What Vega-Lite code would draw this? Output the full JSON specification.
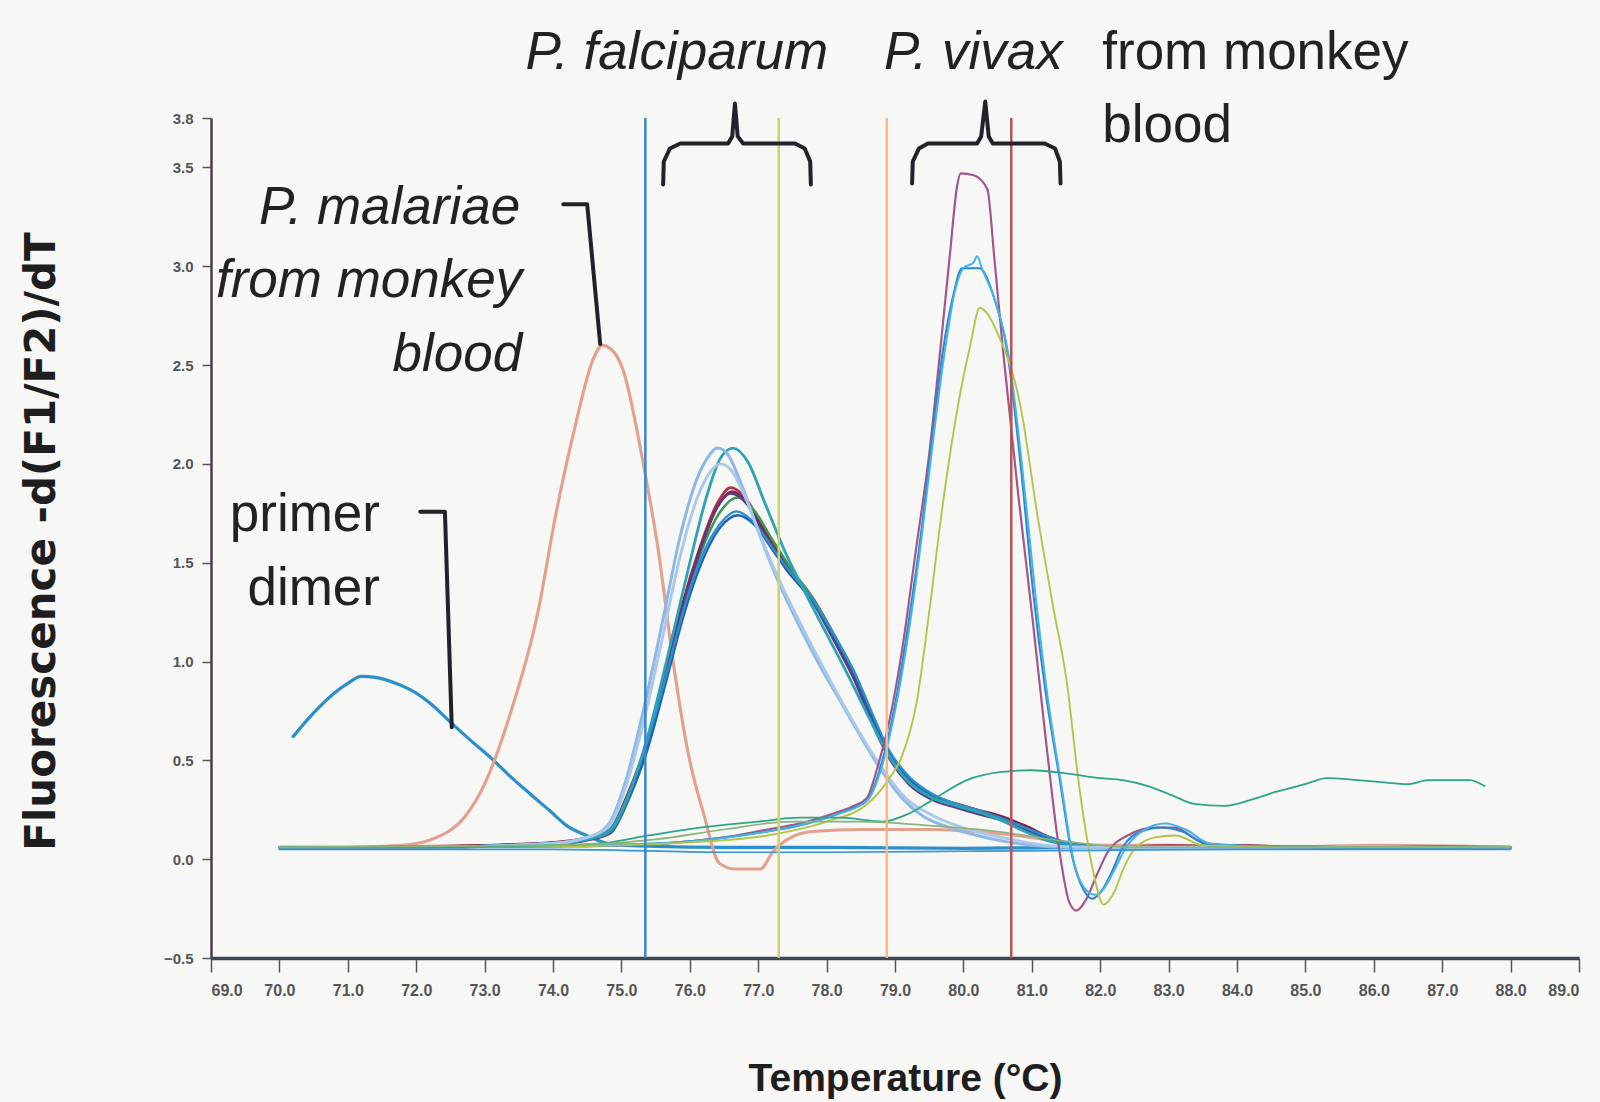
{
"$schema": "https://vega.github.io/schema/vega-lite/v6.json",
"width": 1368, "height": 840,
"autosize": {"type": "none"},
"padding": {"left": 211, "top": 118, "right": 21, "bottom": 144},
"background": "#f7f7f5",
"config": {"view": {"stroke": null}, "font": "Liberation Sans"},
"datasets": {
"curves": [
{"s":"primer","t":70.2,"v":0.62},{"s":"primer","t":70.5,"v":0.74},{"s":"primer","t":70.8,"v":0.84},{"s":"primer","t":71.0,"v":0.89},{"s":"primer","t":71.2,"v":0.925},{"s":"primer","t":71.4,"v":0.92},{"s":"primer","t":71.7,"v":0.89},{"s":"primer","t":72.0,"v":0.84},{"s":"primer","t":72.2,"v":0.79},{"s":"primer","t":72.48,"v":0.70},{"s":"primer","t":72.8,"v":0.60},{"s":"primer","t":73.1,"v":0.51},{"s":"primer","t":73.37,"v":0.42},{"s":"primer","t":73.7,"v":0.32},{"s":"primer","t":73.97,"v":0.24},{"s":"primer","t":74.2,"v":0.17},{"s":"primer","t":74.49,"v":0.12},{"s":"primer","t":74.87,"v":0.075},{"s":"primer","t":75.5,"v":0.065},{"s":"primer","t":76.5,"v":0.06},{"s":"primer","t":78,"v":0.06},{"s":"primer","t":80,"v":0.055},{"s":"primer","t":82,"v":0.06},{"s":"primer","t":84,"v":0.055},{"s":"primer","t":86,"v":0.06},{"s":"primer","t":88,"v":0.06},
{"s":"malariae","t":70.0,"v":0.06},{"s":"malariae","t":71.0,"v":0.06},{"s":"malariae","t":71.8,"v":0.07},{"s":"malariae","t":72.3,"v":0.11},{"s":"malariae","t":72.7,"v":0.21},{"s":"malariae","t":73.0,"v":0.38},{"s":"malariae","t":73.37,"v":0.73},{"s":"malariae","t":73.78,"v":1.25},{"s":"malariae","t":74.05,"v":1.76},{"s":"malariae","t":74.31,"v":2.17},{"s":"malariae","t":74.6,"v":2.54},{"s":"malariae","t":74.72,"v":2.6},{"s":"malariae","t":74.85,"v":2.58},{"s":"malariae","t":75.02,"v":2.48},{"s":"malariae","t":75.31,"v":2.02},{"s":"malariae","t":75.54,"v":1.56},{"s":"malariae","t":75.76,"v":0.99},{"s":"malariae","t":75.98,"v":0.53},{"s":"malariae","t":76.21,"v":0.22},{"s":"malariae","t":76.43,"v":-0.02},{"s":"malariae","t":76.66,"v":-0.05},{"s":"malariae","t":77.03,"v":-0.05},{"s":"malariae","t":77.22,"v":0.04},{"s":"malariae","t":77.48,"v":0.11},{"s":"malariae","t":77.8,"v":0.14},{"s":"malariae","t":78.5,"v":0.15},{"s":"malariae","t":79.5,"v":0.15},{"s":"malariae","t":80.5,"v":0.13},{"s":"malariae","t":81.0,"v":0.11},{"s":"malariae","t":81.5,"v":0.08},{"s":"malariae","t":82.0,"v":0.07},{"s":"malariae","t":83.0,"v":0.07},{"s":"malariae","t":84.5,"v":0.06},{"s":"malariae","t":86.0,"v":0.07},{"s":"malariae","t":88.0,"v":0.06},
{"s":"fal_red","t":70,"v":0.06},{"s":"fal_red","t":71,"v":0.06},{"s":"fal_red","t":72,"v":0.065},{"s":"fal_red","t":73,"v":0.07},{"s":"fal_red","t":74,"v":0.08},{"s":"fal_red","t":74.5,"v":0.1},{"s":"fal_red","t":74.83,"v":0.14},{"s":"fal_red","t":75.08,"v":0.3},{"s":"fal_red","t":75.35,"v":0.55},{"s":"fal_red","t":75.67,"v":0.97},{"s":"fal_red","t":75.9,"v":1.3},{"s":"fal_red","t":76.15,"v":1.58},{"s":"fal_red","t":76.4,"v":1.8},{"s":"fal_red","t":76.6,"v":1.88},{"s":"fal_red","t":76.85,"v":1.81},{"s":"fal_red","t":77.1,"v":1.65},{"s":"fal_red","t":77.4,"v":1.48},{"s":"fal_red","t":77.8,"v":1.31},{"s":"fal_red","t":78.1,"v":1.12},{"s":"fal_red","t":78.4,"v":0.92},{"s":"fal_red","t":78.74,"v":0.64},{"s":"fal_red","t":78.9,"v":0.53},{"s":"fal_red","t":79.2,"v":0.39},{"s":"fal_red","t":79.55,"v":0.31},{"s":"fal_red","t":79.9,"v":0.27},{"s":"fal_red","t":80.2,"v":0.24},{"s":"fal_red","t":80.53,"v":0.21},{"s":"fal_red","t":80.9,"v":0.16},{"s":"fal_red","t":81.27,"v":0.1},{"s":"fal_red","t":81.7,"v":0.07},{"s":"fal_red","t":82.2,"v":0.06},{"s":"fal_red","t":83,"v":0.07},{"s":"fal_red","t":84,"v":0.06},{"s":"fal_red","t":85,"v":0.065},{"s":"fal_red","t":86,"v":0.055},{"s":"fal_red","t":87,"v":0.06},{"s":"fal_red","t":88,"v":0.06},
{"s":"fal_dred","t":70,"v":0.055},{"s":"fal_dred","t":71,"v":0.06},{"s":"fal_dred","t":72,"v":0.06},{"s":"fal_dred","t":73,"v":0.07},{"s":"fal_dred","t":74,"v":0.085},{"s":"fal_dred","t":74.5,"v":0.11},{"s":"fal_dred","t":74.83,"v":0.15},{"s":"fal_dred","t":75.08,"v":0.32},{"s":"fal_dred","t":75.35,"v":0.57},{"s":"fal_dred","t":75.67,"v":0.98},{"s":"fal_dred","t":75.9,"v":1.29},{"s":"fal_dred","t":76.15,"v":1.57},{"s":"fal_dred","t":76.4,"v":1.78},{"s":"fal_dred","t":76.62,"v":1.86},{"s":"fal_dred","t":76.85,"v":1.8},{"s":"fal_dred","t":77.1,"v":1.66},{"s":"fal_dred","t":77.4,"v":1.5},{"s":"fal_dred","t":77.8,"v":1.32},{"s":"fal_dred","t":78.1,"v":1.14},{"s":"fal_dred","t":78.4,"v":0.94},{"s":"fal_dred","t":78.74,"v":0.66},{"s":"fal_dred","t":78.9,"v":0.54},{"s":"fal_dred","t":79.2,"v":0.4},{"s":"fal_dred","t":79.55,"v":0.32},{"s":"fal_dred","t":79.9,"v":0.28},{"s":"fal_dred","t":80.2,"v":0.25},{"s":"fal_dred","t":80.53,"v":0.22},{"s":"fal_dred","t":80.9,"v":0.17},{"s":"fal_dred","t":81.27,"v":0.11},{"s":"fal_dred","t":81.7,"v":0.07},{"s":"fal_dred","t":82.2,"v":0.06},{"s":"fal_dred","t":83,"v":0.06},{"s":"fal_dred","t":84,"v":0.07},{"s":"fal_dred","t":85,"v":0.06},{"s":"fal_dred","t":86,"v":0.06},{"s":"fal_dred","t":87,"v":0.065},{"s":"fal_dred","t":88,"v":0.06},
{"s":"fal_green","t":70,"v":0.06},{"s":"fal_green","t":72,"v":0.06},{"s":"fal_green","t":73,"v":0.065},{"s":"fal_green","t":74,"v":0.08},{"s":"fal_green","t":74.5,"v":0.1},{"s":"fal_green","t":74.83,"v":0.13},{"s":"fal_green","t":75.08,"v":0.28},{"s":"fal_green","t":75.35,"v":0.53},{"s":"fal_green","t":75.67,"v":0.95},{"s":"fal_green","t":75.9,"v":1.27},{"s":"fal_green","t":76.15,"v":1.54},{"s":"fal_green","t":76.45,"v":1.76},{"s":"fal_green","t":76.7,"v":1.83},{"s":"fal_green","t":76.95,"v":1.76},{"s":"fal_green","t":77.2,"v":1.62},{"s":"fal_green","t":77.5,"v":1.46},{"s":"fal_green","t":77.8,"v":1.32},{"s":"fal_green","t":78.1,"v":1.14},{"s":"fal_green","t":78.4,"v":0.95},{"s":"fal_green","t":78.74,"v":0.67},{"s":"fal_green","t":78.9,"v":0.55},{"s":"fal_green","t":79.2,"v":0.4},{"s":"fal_green","t":79.55,"v":0.31},{"s":"fal_green","t":79.9,"v":0.27},{"s":"fal_green","t":80.2,"v":0.24},{"s":"fal_green","t":80.53,"v":0.2},{"s":"fal_green","t":80.9,"v":0.15},{"s":"fal_green","t":81.27,"v":0.1},{"s":"fal_green","t":81.7,"v":0.07},{"s":"fal_green","t":82.2,"v":0.06},{"s":"fal_green","t":84,"v":0.06},{"s":"fal_green","t":86,"v":0.06},{"s":"fal_green","t":88,"v":0.06},
{"s":"fal_purple","t":70,"v":0.06},{"s":"fal_purple","t":72,"v":0.06},{"s":"fal_purple","t":74,"v":0.075},{"s":"fal_purple","t":74.5,"v":0.095},{"s":"fal_purple","t":74.83,"v":0.13},{"s":"fal_purple","t":75.08,"v":0.29},{"s":"fal_purple","t":75.35,"v":0.54},{"s":"fal_purple","t":75.67,"v":0.96},{"s":"fal_purple","t":75.9,"v":1.28},{"s":"fal_purple","t":76.15,"v":1.56},{"s":"fal_purple","t":76.4,"v":1.78},{"s":"fal_purple","t":76.6,"v":1.85},{"s":"fal_purple","t":76.85,"v":1.79},{"s":"fal_purple","t":77.1,"v":1.63},{"s":"fal_purple","t":77.4,"v":1.47},{"s":"fal_purple","t":77.8,"v":1.3},{"s":"fal_purple","t":78.1,"v":1.11},{"s":"fal_purple","t":78.4,"v":0.91},{"s":"fal_purple","t":78.74,"v":0.63},{"s":"fal_purple","t":78.9,"v":0.52},{"s":"fal_purple","t":79.2,"v":0.38},{"s":"fal_purple","t":79.55,"v":0.3},{"s":"fal_purple","t":79.9,"v":0.26},{"s":"fal_purple","t":80.2,"v":0.23},{"s":"fal_purple","t":80.53,"v":0.2},{"s":"fal_purple","t":80.9,"v":0.15},{"s":"fal_purple","t":81.27,"v":0.1},{"s":"fal_purple","t":81.7,"v":0.065},{"s":"fal_purple","t":82.2,"v":0.06},{"s":"fal_purple","t":84,"v":0.06},{"s":"fal_purple","t":86,"v":0.06},{"s":"fal_purple","t":88,"v":0.06},
{"s":"fal_blue","t":70,"v":0.06},{"s":"fal_blue","t":72,"v":0.06},{"s":"fal_blue","t":74,"v":0.08},{"s":"fal_blue","t":74.5,"v":0.1},{"s":"fal_blue","t":74.83,"v":0.14},{"s":"fal_blue","t":75.08,"v":0.29},{"s":"fal_blue","t":75.35,"v":0.52},{"s":"fal_blue","t":75.67,"v":0.92},{"s":"fal_blue","t":75.9,"v":1.22},{"s":"fal_blue","t":76.15,"v":1.48},{"s":"fal_blue","t":76.45,"v":1.68},{"s":"fal_blue","t":76.7,"v":1.74},{"s":"fal_blue","t":76.95,"v":1.69},{"s":"fal_blue","t":77.2,"v":1.57},{"s":"fal_blue","t":77.5,"v":1.43},{"s":"fal_blue","t":77.8,"v":1.3},{"s":"fal_blue","t":78.1,"v":1.13},{"s":"fal_blue","t":78.4,"v":0.94},{"s":"fal_blue","t":78.74,"v":0.66},{"s":"fal_blue","t":78.9,"v":0.55},{"s":"fal_blue","t":79.2,"v":0.41},{"s":"fal_blue","t":79.55,"v":0.32},{"s":"fal_blue","t":79.9,"v":0.27},{"s":"fal_blue","t":80.2,"v":0.24},{"s":"fal_blue","t":80.53,"v":0.21},{"s":"fal_blue","t":80.9,"v":0.16},{"s":"fal_blue","t":81.27,"v":0.1},{"s":"fal_blue","t":81.7,"v":0.07},{"s":"fal_blue","t":82.2,"v":0.055},{"s":"fal_blue","t":84,"v":0.055},{"s":"fal_blue","t":86,"v":0.06},{"s":"fal_blue","t":88,"v":0.055},
{"s":"fal_cyan","t":70,"v":0.055},{"s":"fal_cyan","t":72,"v":0.06},{"s":"fal_cyan","t":74,"v":0.08},{"s":"fal_cyan","t":74.5,"v":0.11},{"s":"fal_cyan","t":74.83,"v":0.15},{"s":"fal_cyan","t":75.08,"v":0.31},{"s":"fal_cyan","t":75.35,"v":0.56},{"s":"fal_cyan","t":75.67,"v":0.95},{"s":"fal_cyan","t":75.9,"v":1.25},{"s":"fal_cyan","t":76.15,"v":1.51},{"s":"fal_cyan","t":76.45,"v":1.7},{"s":"fal_cyan","t":76.68,"v":1.76},{"s":"fal_cyan","t":76.95,"v":1.7},{"s":"fal_cyan","t":77.2,"v":1.58},{"s":"fal_cyan","t":77.5,"v":1.44},{"s":"fal_cyan","t":77.8,"v":1.31},{"s":"fal_cyan","t":78.1,"v":1.14},{"s":"fal_cyan","t":78.4,"v":0.95},{"s":"fal_cyan","t":78.74,"v":0.68},{"s":"fal_cyan","t":78.9,"v":0.56},{"s":"fal_cyan","t":79.2,"v":0.42},{"s":"fal_cyan","t":79.55,"v":0.33},{"s":"fal_cyan","t":79.9,"v":0.28},{"s":"fal_cyan","t":80.2,"v":0.25},{"s":"fal_cyan","t":80.53,"v":0.21},{"s":"fal_cyan","t":80.9,"v":0.16},{"s":"fal_cyan","t":81.27,"v":0.11},{"s":"fal_cyan","t":81.7,"v":0.07},{"s":"fal_cyan","t":82.2,"v":0.06},{"s":"fal_cyan","t":84,"v":0.06},{"s":"fal_cyan","t":86,"v":0.055},{"s":"fal_cyan","t":88,"v":0.06},
{"s":"fal_teal","t":70,"v":0.06},{"s":"fal_teal","t":72,"v":0.06},{"s":"fal_teal","t":74,"v":0.075},{"s":"fal_teal","t":74.5,"v":0.1},{"s":"fal_teal","t":74.83,"v":0.14},{"s":"fal_teal","t":75.1,"v":0.32},{"s":"fal_teal","t":75.4,"v":0.64},{"s":"fal_teal","t":75.7,"v":1.06},{"s":"fal_teal","t":76.0,"v":1.5},{"s":"fal_teal","t":76.25,"v":1.84},{"s":"fal_teal","t":76.45,"v":2.03},{"s":"fal_teal","t":76.63,"v":2.08},{"s":"fal_teal","t":76.85,"v":2.01},{"s":"fal_teal","t":77.1,"v":1.8},{"s":"fal_teal","t":77.4,"v":1.55},{"s":"fal_teal","t":77.7,"v":1.34},{"s":"fal_teal","t":78.0,"v":1.14},{"s":"fal_teal","t":78.3,"v":0.94},{"s":"fal_teal","t":78.6,"v":0.73},{"s":"fal_teal","t":78.9,"v":0.53},{"s":"fal_teal","t":79.2,"v":0.39},{"s":"fal_teal","t":79.55,"v":0.31},{"s":"fal_teal","t":79.9,"v":0.27},{"s":"fal_teal","t":80.2,"v":0.24},{"s":"fal_teal","t":80.53,"v":0.2},{"s":"fal_teal","t":80.9,"v":0.14},{"s":"fal_teal","t":81.27,"v":0.09},{"s":"fal_teal","t":81.7,"v":0.065},{"s":"fal_teal","t":82.2,"v":0.06},{"s":"fal_teal","t":84,"v":0.06},{"s":"fal_teal","t":86,"v":0.06},{"s":"fal_teal","t":88,"v":0.06},
{"s":"fal_lb1","t":70,"v":0.06},{"s":"fal_lb1","t":72,"v":0.06},{"s":"fal_lb1","t":74,"v":0.08},{"s":"fal_lb1","t":74.5,"v":0.11},{"s":"fal_lb1","t":74.8,"v":0.17},{"s":"fal_lb1","t":75.05,"v":0.38},{"s":"fal_lb1","t":75.3,"v":0.72},{"s":"fal_lb1","t":75.6,"v":1.2},{"s":"fal_lb1","t":75.85,"v":1.62},{"s":"fal_lb1","t":76.1,"v":1.92},{"s":"fal_lb1","t":76.3,"v":2.05},{"s":"fal_lb1","t":76.4,"v":2.08},{"s":"fal_lb1","t":76.55,"v":2.05},{"s":"fal_lb1","t":76.75,"v":1.9},{"s":"fal_lb1","t":77.0,"v":1.66},{"s":"fal_lb1","t":77.3,"v":1.4},{"s":"fal_lb1","t":77.6,"v":1.18},{"s":"fal_lb1","t":77.9,"v":0.98},{"s":"fal_lb1","t":78.2,"v":0.8},{"s":"fal_lb1","t":78.5,"v":0.62},{"s":"fal_lb1","t":78.8,"v":0.45},{"s":"fal_lb1","t":79.1,"v":0.31},{"s":"fal_lb1","t":79.4,"v":0.22},{"s":"fal_lb1","t":79.8,"v":0.16},{"s":"fal_lb1","t":80.2,"v":0.12},{"s":"fal_lb1","t":80.6,"v":0.09},{"s":"fal_lb1","t":81.0,"v":0.07},{"s":"fal_lb1","t":81.5,"v":0.06},{"s":"fal_lb1","t":82.5,"v":0.06},{"s":"fal_lb1","t":84,"v":0.06},{"s":"fal_lb1","t":86,"v":0.06},{"s":"fal_lb1","t":88,"v":0.06},
{"s":"fal_lb2","t":70,"v":0.06},{"s":"fal_lb2","t":72,"v":0.06},{"s":"fal_lb2","t":74,"v":0.08},{"s":"fal_lb2","t":74.5,"v":0.11},{"s":"fal_lb2","t":74.8,"v":0.16},{"s":"fal_lb2","t":75.05,"v":0.35},{"s":"fal_lb2","t":75.3,"v":0.66},{"s":"fal_lb2","t":75.6,"v":1.12},{"s":"fal_lb2","t":75.85,"v":1.52},{"s":"fal_lb2","t":76.1,"v":1.82},{"s":"fal_lb2","t":76.3,"v":1.96},{"s":"fal_lb2","t":76.45,"v":2.0},{"s":"fal_lb2","t":76.6,"v":1.97},{"s":"fal_lb2","t":76.8,"v":1.84},{"s":"fal_lb2","t":77.05,"v":1.62},{"s":"fal_lb2","t":77.35,"v":1.38},{"s":"fal_lb2","t":77.65,"v":1.17},{"s":"fal_lb2","t":77.95,"v":0.97},{"s":"fal_lb2","t":78.25,"v":0.78},{"s":"fal_lb2","t":78.55,"v":0.6},{"s":"fal_lb2","t":78.85,"v":0.44},{"s":"fal_lb2","t":79.15,"v":0.31},{"s":"fal_lb2","t":79.5,"v":0.23},{"s":"fal_lb2","t":79.9,"v":0.17},{"s":"fal_lb2","t":80.3,"v":0.13},{"s":"fal_lb2","t":80.7,"v":0.1},{"s":"fal_lb2","t":81.2,"v":0.07},{"s":"fal_lb2","t":81.8,"v":0.06},{"s":"fal_lb2","t":83,"v":0.06},{"s":"fal_lb2","t":85,"v":0.06},{"s":"fal_lb2","t":88,"v":0.06},
{"s":"viv_purple","t":70,"v":0.06},{"s":"viv_purple","t":72,"v":0.06},{"s":"viv_purple","t":74,"v":0.065},{"s":"viv_purple","t":75,"v":0.07},{"s":"viv_purple","t":76,"v":0.09},{"s":"viv_purple","t":76.5,"v":0.11},{"s":"viv_purple","t":77.13,"v":0.15},{"s":"viv_purple","t":77.6,"v":0.18},{"s":"viv_purple","t":78.09,"v":0.23},{"s":"viv_purple","t":78.4,"v":0.27},{"s":"viv_purple","t":78.59,"v":0.31},{"s":"viv_purple","t":78.74,"v":0.46},{"s":"viv_purple","t":78.93,"v":0.72},{"s":"viv_purple","t":79.1,"v":1.05},{"s":"viv_purple","t":79.3,"v":1.55},{"s":"viv_purple","t":79.5,"v":2.05},{"s":"viv_purple","t":79.66,"v":2.57},{"s":"viv_purple","t":79.8,"v":3.05},{"s":"viv_purple","t":79.91,"v":3.41},{"s":"viv_purple","t":79.96,"v":3.47},{"s":"viv_purple","t":80.15,"v":3.46},{"s":"viv_purple","t":80.35,"v":3.39},{"s":"viv_purple","t":80.45,"v":3.05},{"s":"viv_purple","t":80.58,"v":2.57},{"s":"viv_purple","t":80.8,"v":1.85},{"s":"viv_purple","t":81.0,"v":1.25},{"s":"viv_purple","t":81.2,"v":0.62},{"s":"viv_purple","t":81.4,"v":0.05},{"s":"viv_purple","t":81.55,"v":-0.22},{"s":"viv_purple","t":81.65,"v":-0.26},{"s":"viv_purple","t":81.8,"v":-0.2},{"s":"viv_purple","t":81.95,"v":-0.08},{"s":"viv_purple","t":82.1,"v":0.03},{"s":"viv_purple","t":82.4,"v":0.12},{"s":"viv_purple","t":82.8,"v":0.16},{"s":"viv_purple","t":83.1,"v":0.16},{"s":"viv_purple","t":83.4,"v":0.1},{"s":"viv_purple","t":83.8,"v":0.07},{"s":"viv_purple","t":85,"v":0.06},{"s":"viv_purple","t":86.5,"v":0.06},{"s":"viv_purple","t":88,"v":0.06},
{"s":"viv_blue","t":70,"v":0.06},{"s":"viv_blue","t":72,"v":0.06},{"s":"viv_blue","t":74,"v":0.065},{"s":"viv_blue","t":75,"v":0.07},{"s":"viv_blue","t":76,"v":0.09},{"s":"viv_blue","t":76.5,"v":0.11},{"s":"viv_blue","t":77.13,"v":0.14},{"s":"viv_blue","t":77.6,"v":0.17},{"s":"viv_blue","t":78.09,"v":0.22},{"s":"viv_blue","t":78.4,"v":0.26},{"s":"viv_blue","t":78.6,"v":0.3},{"s":"viv_blue","t":78.8,"v":0.48},{"s":"viv_blue","t":79.0,"v":0.78},{"s":"viv_blue","t":79.2,"v":1.2},{"s":"viv_blue","t":79.4,"v":1.7},{"s":"viv_blue","t":79.55,"v":2.15},{"s":"viv_blue","t":79.7,"v":2.57},{"s":"viv_blue","t":79.85,"v":2.85},{"s":"viv_blue","t":79.98,"v":2.99},{"s":"viv_blue","t":80.24,"v":2.99},{"s":"viv_blue","t":80.3,"v":2.97},{"s":"viv_blue","t":80.43,"v":2.86},{"s":"viv_blue","t":80.64,"v":2.57},{"s":"viv_blue","t":80.85,"v":1.95},{"s":"viv_blue","t":81.02,"v":1.35},{"s":"viv_blue","t":81.2,"v":0.85},{"s":"viv_blue","t":81.41,"v":0.4},{"s":"viv_blue","t":81.6,"v":0.0},{"s":"viv_blue","t":81.75,"v":-0.15},{"s":"viv_blue","t":81.88,"v":-0.2},{"s":"viv_blue","t":82.0,"v":-0.17},{"s":"viv_blue","t":82.15,"v":-0.08},{"s":"viv_blue","t":82.33,"v":0.06},{"s":"viv_blue","t":82.6,"v":0.14},{"s":"viv_blue","t":82.9,"v":0.16},{"s":"viv_blue","t":83.2,"v":0.14},{"s":"viv_blue","t":83.6,"v":0.07},{"s":"viv_blue","t":85,"v":0.06},{"s":"viv_blue","t":86.5,"v":0.055},{"s":"viv_blue","t":88,"v":0.06},
{"s":"viv_cyan","t":70,"v":0.06},{"s":"viv_cyan","t":72,"v":0.06},{"s":"viv_cyan","t":74,"v":0.07},{"s":"viv_cyan","t":75,"v":0.075},{"s":"viv_cyan","t":76,"v":0.09},{"s":"viv_cyan","t":77.13,"v":0.14},{"s":"viv_cyan","t":78.09,"v":0.22},{"s":"viv_cyan","t":78.6,"v":0.3},{"s":"viv_cyan","t":78.8,"v":0.46},{"s":"viv_cyan","t":79.0,"v":0.75},{"s":"viv_cyan","t":79.2,"v":1.15},{"s":"viv_cyan","t":79.4,"v":1.66},{"s":"viv_cyan","t":79.55,"v":2.1},{"s":"viv_cyan","t":79.72,"v":2.55},{"s":"viv_cyan","t":79.88,"v":2.88},{"s":"viv_cyan","t":80.0,"v":2.99},{"s":"viv_cyan","t":80.15,"v":3.02},{"s":"viv_cyan","t":80.2,"v":3.05},{"s":"viv_cyan","t":80.28,"v":2.98},{"s":"viv_cyan","t":80.45,"v":2.84},{"s":"viv_cyan","t":80.66,"v":2.55},{"s":"viv_cyan","t":80.87,"v":1.95},{"s":"viv_cyan","t":81.05,"v":1.35},{"s":"viv_cyan","t":81.22,"v":0.85},{"s":"viv_cyan","t":81.43,"v":0.38},{"s":"viv_cyan","t":81.62,"v":-0.02},{"s":"viv_cyan","t":81.78,"v":-0.15},{"s":"viv_cyan","t":81.93,"v":-0.18},{"s":"viv_cyan","t":82.05,"v":-0.15},{"s":"viv_cyan","t":82.2,"v":-0.06},{"s":"viv_cyan","t":82.38,"v":0.06},{"s":"viv_cyan","t":82.65,"v":0.15},{"s":"viv_cyan","t":82.95,"v":0.18},{"s":"viv_cyan","t":83.25,"v":0.15},{"s":"viv_cyan","t":83.6,"v":0.08},{"s":"viv_cyan","t":85,"v":0.06},{"s":"viv_cyan","t":88,"v":0.06},
{"s":"viv_yellow","t":70,"v":0.06},{"s":"viv_yellow","t":72,"v":0.06},{"s":"viv_yellow","t":74,"v":0.065},{"s":"viv_yellow","t":75,"v":0.07},{"s":"viv_yellow","t":76,"v":0.085},{"s":"viv_yellow","t":77.13,"v":0.12},{"s":"viv_yellow","t":78.0,"v":0.19},{"s":"viv_yellow","t":78.6,"v":0.28},{"s":"viv_yellow","t":78.9,"v":0.4},{"s":"viv_yellow","t":79.1,"v":0.52},{"s":"viv_yellow","t":79.32,"v":0.8},{"s":"viv_yellow","t":79.5,"v":1.25},{"s":"viv_yellow","t":79.7,"v":1.8},{"s":"viv_yellow","t":79.95,"v":2.35},{"s":"viv_yellow","t":80.1,"v":2.6},{"s":"viv_yellow","t":80.24,"v":2.79},{"s":"viv_yellow","t":80.35,"v":2.76},{"s":"viv_yellow","t":80.5,"v":2.66},{"s":"viv_yellow","t":80.83,"v":2.3},{"s":"viv_yellow","t":81.1,"v":1.7},{"s":"viv_yellow","t":81.3,"v":1.3},{"s":"viv_yellow","t":81.51,"v":0.9},{"s":"viv_yellow","t":81.7,"v":0.35},{"s":"viv_yellow","t":81.89,"v":-0.05},{"s":"viv_yellow","t":82.05,"v":-0.23},{"s":"viv_yellow","t":82.2,"v":-0.17},{"s":"viv_yellow","t":82.35,"v":-0.04},{"s":"viv_yellow","t":82.5,"v":0.05},{"s":"viv_yellow","t":82.8,"v":0.11},{"s":"viv_yellow","t":83.1,"v":0.12},{"s":"viv_yellow","t":83.5,"v":0.07},{"s":"viv_yellow","t":85,"v":0.06},{"s":"viv_yellow","t":88,"v":0.06},
{"s":"green_wave","t":70,"v":0.06},{"s":"green_wave","t":72,"v":0.06},{"s":"green_wave","t":74,"v":0.07},{"s":"green_wave","t":74.69,"v":0.08},{"s":"green_wave","t":75.4,"v":0.12},{"s":"green_wave","t":76.15,"v":0.16},{"s":"green_wave","t":77.0,"v":0.19},{"s":"green_wave","t":77.61,"v":0.21},{"s":"green_wave","t":78.2,"v":0.21},{"s":"green_wave","t":78.82,"v":0.19},{"s":"green_wave","t":79.2,"v":0.23},{"s":"green_wave","t":79.55,"v":0.3},{"s":"green_wave","t":80.05,"v":0.4},{"s":"green_wave","t":80.53,"v":0.44},{"s":"green_wave","t":81.0,"v":0.45},{"s":"green_wave","t":81.58,"v":0.43},{"s":"green_wave","t":82.0,"v":0.41},{"s":"green_wave","t":82.33,"v":0.4},{"s":"green_wave","t":82.7,"v":0.37},{"s":"green_wave","t":83.07,"v":0.32},{"s":"green_wave","t":83.37,"v":0.28},{"s":"green_wave","t":83.82,"v":0.27},{"s":"green_wave","t":84.2,"v":0.3},{"s":"green_wave","t":84.56,"v":0.34},{"s":"green_wave","t":85.0,"v":0.38},{"s":"green_wave","t":85.31,"v":0.41},{"s":"green_wave","t":85.76,"v":0.4},{"s":"green_wave","t":86.1,"v":0.39},{"s":"green_wave","t":86.5,"v":0.38},{"s":"green_wave","t":86.8,"v":0.4},{"s":"green_wave","t":87.1,"v":0.4},{"s":"green_wave","t":87.4,"v":0.4},{"s":"green_wave","t":87.62,"v":0.37},
{"s":"flat_blue","t":70,"v":0.05},{"s":"flat_blue","t":72,"v":0.05},{"s":"flat_blue","t":74,"v":0.05},{"s":"flat_blue","t":75,"v":0.045},{"s":"flat_blue","t":76.5,"v":0.035},{"s":"flat_blue","t":78,"v":0.035},{"s":"flat_blue","t":80,"v":0.04},{"s":"flat_blue","t":82,"v":0.045},{"s":"flat_blue","t":84,"v":0.05},{"s":"flat_blue","t":86,"v":0.05},{"s":"flat_blue","t":88,"v":0.05},
{"s":"flat_green","t":70,"v":0.06},{"s":"flat_green","t":74,"v":0.07},{"s":"flat_green","t":75.5,"v":0.1},{"s":"flat_green","t":76.5,"v":0.15},{"s":"flat_green","t":77.5,"v":0.19},{"s":"flat_green","t":78.5,"v":0.19},{"s":"flat_green","t":79.5,"v":0.17},{"s":"flat_green","t":80.5,"v":0.14},{"s":"flat_green","t":81.5,"v":0.09},{"s":"flat_green","t":82.5,"v":0.06},{"s":"flat_green","t":88,"v":0.06}
],
"rules": [
{"s":"r_blue","t":75.35,"lo":-0.5,"hi":3.75},{"s":"r_yellow","t":77.3,"lo":-0.5,"hi":3.75},{"s":"r_orange","t":78.88,"lo":-0.5,"hi":3.75},{"s":"r_red","t":80.7,"lo":-0.5,"hi":3.75}
],
"marks": [
{"g":"b1","i":0,"t":75.61,"v":3.414},{"g":"b1","i":1,"t":75.62,"v":3.53},{"g":"b1","i":2,"t":75.71,"v":3.596},{"g":"b1","i":3,"t":75.86,"v":3.621},{"g":"b1","i":4,"t":76.56,"v":3.621},{"g":"b1","i":5,"t":76.62,"v":3.657},{"g":"b1","i":6,"t":76.66,"v":3.823},{"g":"b1","i":7,"t":76.7,"v":3.657},{"g":"b1","i":8,"t":76.78,"v":3.621},{"g":"b1","i":9,"t":77.54,"v":3.621},{"g":"b1","i":10,"t":77.68,"v":3.596},{"g":"b1","i":11,"t":77.76,"v":3.53},{"g":"b1","i":12,"t":77.77,"v":3.414},
{"g":"b2","i":0,"t":79.25,"v":3.419},{"g":"b2","i":1,"t":79.26,"v":3.53},{"g":"b2","i":2,"t":79.35,"v":3.596},{"g":"b2","i":3,"t":79.48,"v":3.621},{"g":"b2","i":4,"t":80.2,"v":3.621},{"g":"b2","i":5,"t":80.26,"v":3.657},{"g":"b2","i":6,"t":80.32,"v":3.833},{"g":"b2","i":7,"t":80.37,"v":3.657},{"g":"b2","i":8,"t":80.43,"v":3.621},{"g":"b2","i":9,"t":81.19,"v":3.621},{"g":"b2","i":10,"t":81.34,"v":3.596},{"g":"b2","i":11,"t":81.41,"v":3.53},{"g":"b2","i":12,"t":81.42,"v":3.419},
{"g":"lp","i":0,"t":72.06,"v":1.758},{"g":"lp","i":1,"t":72.42,"v":1.758},{"g":"lp","i":2,"t":72.52,"v":0.667},
{"g":"lm","i":0,"t":74.15,"v":3.313},{"g":"lm","i":1,"t":74.5,"v":3.313},{"g":"lm","i":2,"t":74.69,"v":2.606}
],
"notes": [
{"g":"ic","label":"P. falciparum","t":75.81,"v":4.0},
{"g":"il","label":"P. vivax","t":78.84,"v":4.0},
{"g":"nl","label":"from monkey","t":82.03,"v":4.0},
{"g":"nl","label":"blood","t":82.03,"v":3.63},
{"g":"ir","label":"P. malariae","t":73.52,"v":3.215},
{"g":"ir","label":"from monkey","t":73.55,"v":2.843},
{"g":"ir","label":"blood","t":73.55,"v":2.47},
{"g":"nr","label":"primer","t":71.47,"v":1.659},
{"g":"nr","label":"dimer","t":71.47,"v":1.288}
]
},
"encoding": {
"x": {"field": "t", "type": "quantitative", "scale": {"domain": [69, 89], "nice": false, "zero": false},
"axis": {"values": [69,70,71,72,73,74,75,76,77,78,79,80,81,82,83,84,85,86,87,88,89], "format": ".1f", "grid": false,
"labelFontSize": 16, "labelFontWeight": "bold", "labelColor": "#555555", "labelPadding": 10,
"tickSize": 14, "tickWidth": 1.5, "tickColor": "#555555",
"domainColor": "#3b4650", "domainWidth": 3.5,
"title": "Temperature (°C)", "titleFont": "Liberation Sans", "titleFontSize": 39, "titleFontWeight": "bold", "titleColor": "#1e1e1e",
"titleX": 694, "titleY": 132, "titleAlign": "center", "titleBaseline": "alphabetic"}},
"y": {"field": "v", "type": "quantitative", "scale": {"domain": [-0.5, 3.75], "nice": false, "zero": false},
"axis": {"values": [-0.5,0,0.5,1,1.5,2,2.5,3,3.5,3.75], "labelExpr": "datum.value > 3.7 ? '3.8' : format(datum.value, '.1f')", "grid": false,
"labelFontSize": 15, "labelFontWeight": "bold", "labelColor": "#555555", "labelPadding": 9,
"tickSize": 9, "tickWidth": 1.5, "tickColor": "#555555",
"domainColor": "#4d3c4e", "domainWidth": 2.5,
"title": "Fluorescence -d(F1/F2)/dT", "titleFont": "DejaVu Sans", "titleFontSize": 42, "titleFontWeight": "bold", "titleColor": "#1e1e1e",
"titleX": -170, "titleY": 423, "titleAngle": -90, "titleAlign": "center", "titleBaseline": "middle"}}
},
"layer": [
{
"data": {"name": "curves"},
"mark": {"type": "line", "interpolate": "monotone", "strokeJoin": "round", "strokeCap": "round"},
"encoding": {
"color": {"field": "s", "type": "nominal", "legend": null,
"scale": {"domain": ["primer","malariae","fal_lb1","fal_lb2","fal_teal","fal_red","fal_dred","fal_green","fal_purple","fal_blue","fal_cyan","viv_purple","viv_blue","viv_cyan","viv_yellow","green_wave","flat_blue","flat_green","r_blue","r_yellow","r_orange","r_red"],
"range": ["#2a8fcc","#e3a08e","#8db8e6","#a9c8ea","#2fa2b6","#b1344a","#7d2748","#3d9a55","#5e3a80","#1d63b0","#2a8fd2","#a0568a","#2a86d0","#45b3e3","#b3c548","#2ea48a","#3b95d6","#8ab47a","#3a86cc","#cdd267","#f8b884","#b85458"]}},
"strokeWidth": {"field": "s", "type": "nominal", "legend": null,
"scale": {"domain": ["primer","malariae","fal_lb1","fal_lb2","fal_teal","fal_red","fal_dred","fal_green","fal_purple","fal_blue","fal_cyan","viv_purple","viv_blue","viv_cyan","viv_yellow","green_wave","flat_blue","flat_green"],
"range": [3.2,1.6,1.6,1.4,2.2,2.4,2.4,2.2,2.2,2.6,2.4,2.0,2.6,2.0,2.0,2.2,2.6,1.6]}}
}
},
{
"data": {"name": "rules"},
"mark": {"type": "rule", "strokeWidth": 2.5},
"encoding": {
"y": {"field": "lo", "type": "quantitative"},
"y2": {"field": "hi"},
"color": {"field": "s", "type": "nominal", "legend": null}
}
},
{
"data": {"name": "marks"},
"mark": {"type": "line", "color": "#22222a", "strokeWidth": 4, "strokeCap": "round", "strokeJoin": "round"},
"encoding": {
"detail": {"field": "g", "type": "nominal"},
"order": {"field": "i", "type": "quantitative"}
}
},
{
"data": {"name": "notes"},
"transform": [{"filter": "datum.g == 'ic'"}],
"mark": {"type": "text", "font": "Liberation Sans", "fontSize": 53, "fontStyle": "italic", "align": "center", "baseline": "alphabetic", "color": "#222222"},
"encoding": {"text": {"field": "label", "type": "nominal"}}
},
{
"data": {"name": "notes"},
"transform": [{"filter": "datum.g == 'il'"}],
"mark": {"type": "text", "font": "Liberation Sans", "fontSize": 53, "fontStyle": "italic", "align": "left", "baseline": "alphabetic", "color": "#222222"},
"encoding": {"text": {"field": "label", "type": "nominal"}}
},
{
"data": {"name": "notes"},
"transform": [{"filter": "datum.g == 'nl'"}],
"mark": {"type": "text", "font": "Liberation Sans", "fontSize": 53, "align": "left", "baseline": "alphabetic", "color": "#222222"},
"encoding": {"text": {"field": "label", "type": "nominal"}}
},
{
"data": {"name": "notes"},
"transform": [{"filter": "datum.g == 'ir'"}],
"mark": {"type": "text", "font": "Liberation Sans", "fontSize": 53, "fontStyle": "italic", "align": "right", "baseline": "alphabetic", "color": "#222222"},
"encoding": {"text": {"field": "label", "type": "nominal"}}
},
{
"data": {"name": "notes"},
"transform": [{"filter": "datum.g == 'nr'"}],
"mark": {"type": "text", "font": "Liberation Sans", "fontSize": 53, "align": "right", "baseline": "alphabetic", "color": "#222222"},
"encoding": {"text": {"field": "label", "type": "nominal"}}
}
]
}
